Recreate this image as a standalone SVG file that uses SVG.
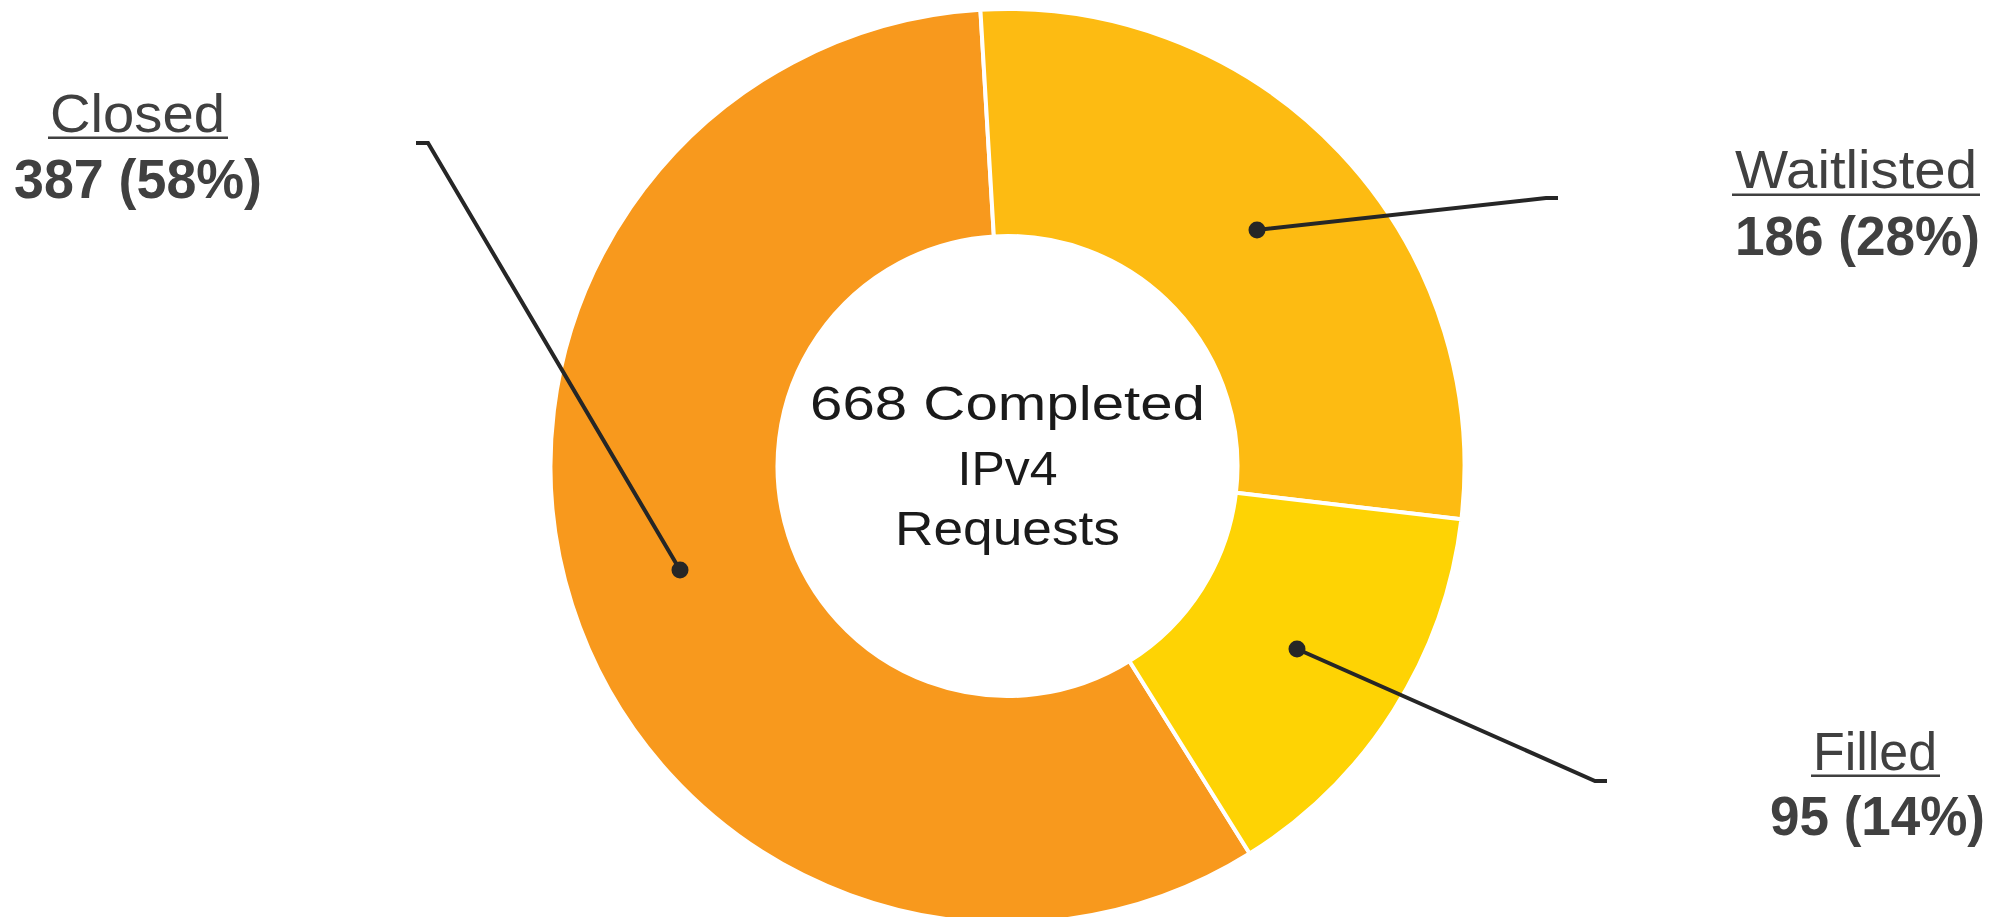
<svg xmlns="http://www.w3.org/2000/svg" width="1990" height="917" viewBox="0 0 1990 917">
  <style>
    .slice { stroke: #ffffff; stroke-width: 4; stroke-linejoin: miter; }
    .closed { fill: #F8991D; }
    .waitlisted { fill: #FDBB12; }
    .filled { fill: #FED304; }
    .leader { fill: none; stroke: #262626; stroke-width: 4; stroke-linejoin: miter; }
    .dot { fill: #262626; }
    .name { font-family: "Liberation Sans", Arial, sans-serif; font-size: 53px; fill: #404040; text-anchor: middle; }
    .value { font-family: "Liberation Sans", Arial, sans-serif; font-size: 55px; font-weight: bold; fill: #404040; text-anchor: middle; }
    .rule { fill: #404040; }
    .center { font-family: "Liberation Sans", Arial, sans-serif; font-size: 49px; fill: #1a1a1a; text-anchor: middle; }
  </style>

  <!-- donut slices -->
  <g id="slice-closed">
    <path class="slice closed" d="M 1249.67 853.56 A 457 457 0 1 1 980.40 9.80 L 993.86 236.40 A 230 230 0 1 0 1129.38 661.05 Z"/>
  </g>
  <g id="slice-waitlisted">
    <path class="slice waitlisted" d="M 980.40 9.80 A 457 457 0 0 1 1461.38 519.32 L 1235.93 492.83 A 230 230 0 0 0 993.86 236.40 Z"/>
  </g>
  <g id="slice-filled">
    <path class="slice filled" d="M 1461.38 519.32 A 457 457 0 0 1 1249.67 853.56 L 1129.38 661.05 A 230 230 0 0 0 1235.93 492.83 Z"/>
  </g>

  <!-- centre caption -->
  <g id="center-label">
    <text class="center" x="1007.5" y="420" textLength="395" lengthAdjust="spacingAndGlyphs">668 Completed</text>
    <text class="center" x="1007.5" y="485" textLength="100" lengthAdjust="spacingAndGlyphs">IPv4</text>
    <text class="center" x="1007.5" y="545" textLength="225" lengthAdjust="spacingAndGlyphs">Requests</text>
  </g>

  <!-- leader lines -->
  <g id="connectors">
    <path class="leader" d="M 416 143 L 428 143 L 680 570"/>
    <circle class="dot" cx="680" cy="570" r="8.5"/>
    <path class="leader" d="M 1257 230 L 1546 198 L 1558 198"/>
    <circle class="dot" cx="1257" cy="230" r="8.5"/>
    <path class="leader" d="M 1297 649 L 1595 781 L 1607 781"/>
    <circle class="dot" cx="1297" cy="649" r="8.5"/>
  </g>

  <!-- category labels -->
  <g id="label-closed">
    <text class="name" x="137.5" y="132" textLength="175" lengthAdjust="spacingAndGlyphs">Closed</text>
    <rect class="rule" x="48" y="136.5" width="180" height="2.5"/>
    <text class="value" x="138" y="198" textLength="248" lengthAdjust="spacingAndGlyphs">387 (58%)</text>
  </g>
  <g id="label-waitlisted">
    <text class="name" x="1856" y="188" textLength="242" lengthAdjust="spacingAndGlyphs">Waitlisted</text>
    <rect class="rule" x="1732" y="193.5" width="248" height="2.5"/>
    <text class="value" x="1857.5" y="255" textLength="245" lengthAdjust="spacingAndGlyphs">186 (28%)</text>
  </g>
  <g id="label-filled">
    <text class="name" x="1875" y="770" textLength="124" lengthAdjust="spacingAndGlyphs">Filled</text>
    <rect class="rule" x="1811" y="774.5" width="129" height="2.5"/>
    <text class="value" x="1877.5" y="835" textLength="215" lengthAdjust="spacingAndGlyphs">95 (14%)</text>
  </g>
</svg>
